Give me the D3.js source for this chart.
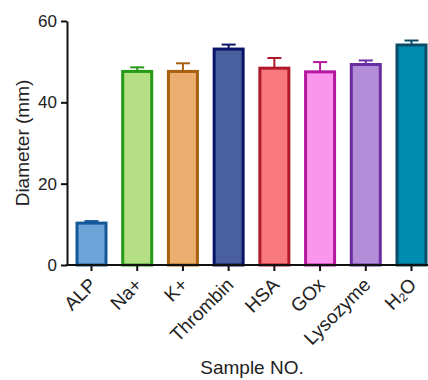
<!DOCTYPE html>
<html><head><meta charset="utf-8">
<script src="https://cdn.jsdelivr.net/npm/d3@7"></script>
<style>body{margin:0;background:#fff}svg{display:block}text{font-family:"Liberation Sans",Arial,sans-serif;fill:#222}</style>
</head><body><svg id="c" width="428" height="380"></svg>
<script>
const categories = ["ALP","Na+","K+","Thrombin","HSA","GOx","Lysozyme","H2O"];
const values = [10.3, 47.6, 47.6, 53.1, 48.4, 47.5, 49.3, 54.1];
const errors = [0.5, 1.0, 2.0, 1.1, 2.5, 2.4, 1.0, 1.1];
const fills = ["#6fa4d9","#b4df84","#ebae6e","#4a5f9e","#f8797e","#fb95ee","#b38dd7","#008cb0"];
const strokes = ["#15589a","#259a16","#a8600e","#0c1468","#b0192a","#b6179f","#6a2ea2","#0a4d69"];
const yTicks = [0,20,40,60];

const svg = d3.select("#c");
const x = d3.scaleBand().domain(categories).range([75.5,427.5]).paddingInner(0.3).paddingOuter(0);
const y = d3.scaleLinear().domain([0,60]).range([265,21]);
const ax0 = 67;

const g = svg.append("g");
g.selectAll("rect.bar").data(categories).join("rect")
  .attr("x", d=>x(d)+1.5).attr("width", x.bandwidth()-3)
  .attr("y", (d,i)=>y(values[i])).attr("height",(d,i)=>y(0)-y(values[i]))
  .attr("fill",(d,i)=>fills[i]).attr("stroke",(d,i)=>strokes[i]).attr("stroke-width",3);
categories.forEach((d,i)=>{
  const cx = x(d)+x.bandwidth()/2;
  g.append("line").attr("x1",cx).attr("x2",cx).attr("y1",y(values[i])).attr("y2",y(values[i]+errors[i]))
    .attr("stroke",strokes[i]).attr("stroke-width",2);
  g.append("line").attr("x1",cx-7).attr("x2",cx+7).attr("y1",y(values[i]+errors[i])).attr("y2",y(values[i]+errors[i]))
    .attr("stroke",strokes[i]).attr("stroke-width",2);
});
const yAxis = svg.append("g").attr("transform",`translate(${ax0},0)`)
  .call(d3.axisLeft(y).tickValues(yTicks).tickSize(6).tickPadding(4).tickSizeOuter(0));
yAxis.select(".domain").attr("stroke","#111").attr("stroke-width",2);
yAxis.selectAll(".tick line").attr("stroke","#111").attr("stroke-width",2);
yAxis.selectAll(".tick text").attr("font-size",17).style("font-family","Liberation Sans, Arial, sans-serif").attr("fill","#222");
const xAxis = svg.append("g").attr("transform",`translate(0,${y(0)})`)
  .call(d3.axisBottom(x).tickSize(6).tickSizeOuter(0).tickFormat(""));
xAxis.select(".domain").attr("d",`M${ax0-1},0H428`).attr("stroke","#111").attr("stroke-width",2);
xAxis.selectAll(".tick line").attr("stroke","#111").attr("stroke-width",2);
xAxis.selectAll(".tick").each(function(d){
  const t = d3.select(this).append("text")
    .attr("text-anchor","end").attr("font-size",19).attr("fill","#222")
    .attr("transform","translate(6,21) rotate(-45)");
  if(d==="H2O"){
    t.append("tspan").text("H");
    t.append("tspan").text("2").attr("font-size",12).attr("dy",2);
    t.append("tspan").text("O").attr("dy",-2);
  } else t.text(d);
});
svg.append("text").attr("transform","translate(29,143) rotate(-90)").attr("text-anchor","middle")
  .attr("font-size",19).text("Diameter (mm)");
svg.append("text").attr("x",252).attr("y",374).attr("text-anchor","middle")
  .attr("font-size",19).text("Sample NO.");
</script></body></html>
